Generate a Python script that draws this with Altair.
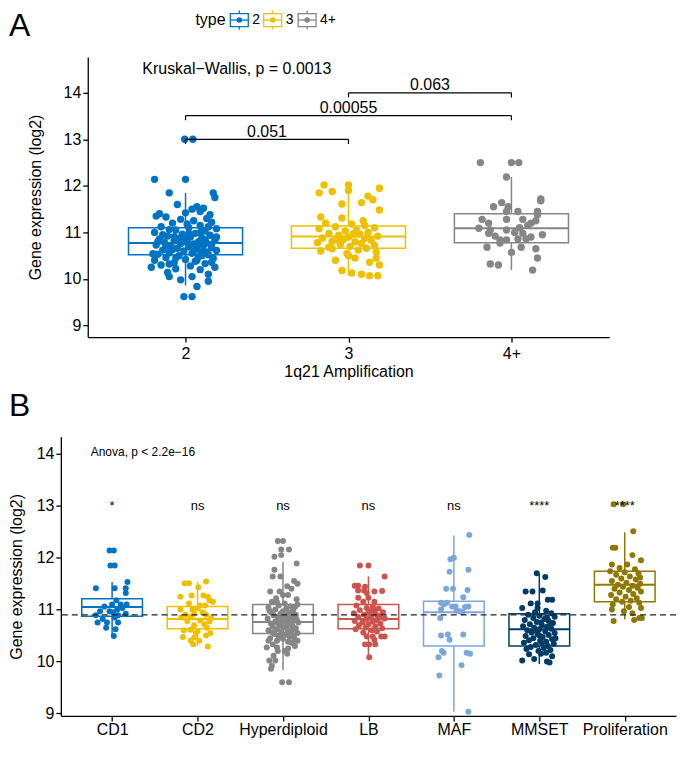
import altair as alt
import pandas as pd

FONT = "Liberation Sans"

# ---------------- Panel A data ----------------
a_groups = ["2", "3", "4+"]
a_colors = ["#0073C2", "#EFC000", "#868686"]
a_q1 = [10.52, 10.66, 10.78]
a_med = [10.77, 10.91, 11.09]
a_q3 = [11.10, 11.14, 11.40]
a_lo = [9.86, 10.07, 10.19]
a_hi = [11.85, 12.03, 12.19]

# (expression, jitter offset in category units)
a_pts_2 = [
    (13.0, -0.005), (13.0, 0.045), (12.14, -0.19), (12.14, 0.0),
    (11.85, -0.10), (11.85, 0.17), (11.75, 0.18), (11.6, -0.05), (11.55, 0.07),
    (11.52, 0.11), (11.5, 0.04), (11.45, 0.09), (11.42, 0.0), (11.35, -0.18),
    (11.33, -0.12), (11.3, 0.13), (11.28, -0.03), (11.25, 0.05), (11.22, 0.16),
    (11.2, -0.08), (11.15, 0.09), (11.12, -0.15), (11.1, 0.02), (11.08, 0.19),
    (11.05, -0.06), (11.03, 0.12), (11.0, -0.19), (10.98, 0.06), (10.96, -0.02),
    (10.94, 0.15), (10.92, -0.11), (10.9, 0.03), (10.88, 0.1), (10.86, -0.16),
    (10.85, 0.0), (10.83, 0.18), (10.82, -0.07), (10.8, 0.08), (10.79, -0.13),
    (10.77, 0.13), (10.76, -0.03), (10.75, 0.05), (10.73, -0.18), (10.72, 0.11),
    (10.7, -0.09), (10.69, 0.02), (10.67, 0.16), (10.66, -0.05), (10.64, 0.07),
    (10.62, -0.14), (10.61, 0.19), (10.6, -0.01), (10.58, 0.1), (10.56, -0.1),
    (10.55, 0.04), (10.53, -0.17), (10.52, 0.14), (10.5, -0.04), (10.48, 0.08),
    (10.46, -0.12), (10.44, 0.17), (10.42, 0.0), (10.4, -0.19), (10.38, 0.06),
    (10.35, -0.07), (10.33, 0.12), (10.3, -0.15), (10.28, 0.03), (10.25, -0.21),
    (10.25, 0.18), (10.22, -0.06), (10.2, 0.09), (10.14, -0.11), (10.1, 0.14),
    (10.05, -0.1), (10.05, 0.04), (9.98, -0.03), (9.95, 0.14), (9.84, 0.07),
    (9.62, -0.01), (9.62, 0.04), (11.4, -0.16), (11.38, 0.15), (11.18, 0.01),
    (11.0, 0.09), (10.95, -0.14), (10.9, 0.19), (10.87, -0.04), (10.84, 0.12),
    (10.8, -0.17), (10.78, 0.01), (10.74, 0.16), (10.7, -0.12), (10.68, 0.07),
    (10.63, -0.08), (10.58, 0.13), (10.54, -0.2), (10.5, 0.1), (10.45, -0.06),
    (10.4, 0.07), (10.36, 0.16), (10.32, -0.1), (11.12, 0.14), (11.06, -0.1),
    (10.97, 0.02), (10.91, -0.07), (10.6, 0.05),
]
a_pts_3 = [
    (12.02, -0.15), (12.02, 0.0), (11.95, 0.19), (11.85, -0.18), (11.88, -0.1),
    (11.9, 0.0), (11.78, 0.12), (11.7, 0.15), (11.64, 0.08), (11.61, -0.04),
    (11.48, 0.19), (11.33, -0.17), (11.31, -0.04), (11.2, -0.14), (11.18, 0.02),
    (11.15, 0.1), (11.12, -0.08), (11.1, 0.16), (11.08, -0.18), (11.05, 0.05),
    (11.03, -0.02), (11.0, 0.12), (10.98, -0.12), (10.96, 0.07), (10.94, -0.06),
    (10.92, 0.18), (10.9, 0.0), (10.88, -0.16), (10.87, 0.1), (10.85, -0.03),
    (10.83, 0.14), (10.81, -0.1), (10.8, 0.04), (10.78, -0.19), (10.76, 0.08),
    (10.74, -0.05), (10.72, 0.16), (10.7, 0.01), (10.68, -0.12), (10.66, 0.11),
    (10.65, -0.1), (10.6, -0.17), (10.62, 0.06), (10.58, 0.17), (10.55, -0.01),
    (10.5, 0.0), (10.45, 0.04), (10.45, 0.17), (10.4, -0.08), (10.36, 0.13),
    (10.3, 0.19), (10.18, -0.04), (10.13, 0.02), (10.1, 0.08), (10.07, 0.13),
    (10.07, 0.18), (11.25, 0.09), (10.97, 0.03), (10.84, -0.07),
]
a_pts_4 = [
    (12.5, -0.19), (12.5, 0.0), (12.5, 0.045), (12.19, -0.03), (11.68, 0.18),
    (11.72, 0.18), (11.64, -0.06), (11.55, -0.11), (11.55, -0.02), (11.45, -0.03),
    (11.45, 0.04), (11.45, 0.16), (11.38, 0.16), (11.28, -0.18), (11.28, -0.03),
    (11.28, 0.07), (11.25, 0.15), (11.2, -0.14), (11.2, 0.12), (11.15, 0.1),
    (11.09, -0.2), (11.05, -0.13), (11.05, -0.03), (11.0, 0.02), (10.98, -0.14),
    (10.98, 0.07), (10.95, 0.19), (10.92, -0.1), (10.86, 0.04), (10.86, 0.09),
    (10.84, -0.07), (10.84, -0.03), (10.77, -0.07), (10.68, -0.15), (10.68, 0.06),
    (10.65, 0.15), (10.57, 0.0), (10.45, 0.16), (10.32, -0.13), (10.3, -0.08),
    (10.19, 0.13), (11.1, 0.05), (10.9, 0.12),
]

a_test_text = ["Kruskal\u2212Wallis, p = 0.0013"]
a_test_x = [0.735]
a_test_y = [14.5]

br_from = [1, 1, 2]
br_to = [2, 3, 3]
br_y = [13.0, 13.51, 14.0]
br_tip = [12.9, 13.41, 13.9]
br_label = ["0.051", "0.00055", "0.063"]

legend_title = "type"

# ---------------- Panel B data ----------------
b_groups = ["CD1", "CD2", "Hyperdiploid", "LB", "MAF", "MMSET", "Proliferation"]
b_colors = ["#0073C2", "#EFC000", "#868686", "#CD534C", "#7AA6DC", "#003C67", "#8F7700"]
b_q1 = [10.87, 10.63, 10.54, 10.63, 10.30, 10.30, 11.15]
b_med = [11.05, 10.82, 10.76, 10.82, 10.95, 10.62, 11.48]
b_q3 = [11.21, 11.06, 11.10, 11.10, 11.16, 10.92, 11.74]
b_lo = [10.49, 10.29, 9.83, 10.08, 9.03, 9.95, 10.81]
b_hi = [11.53, 11.54, 11.92, 11.64, 12.43, 11.70, 12.49]
b_sig = ["*", "ns", "ns", "ns", "ns", "****", "****"]
b_sig_y = 13.0
b_ref = 10.9
b_test_text = ["Anova, p < 2.2e\u221216"]
b_test_x = [0.75]
b_test_y = [14.03]

b_pts_cd1 = [
    (12.14, -0.03), (12.14, 0.02), (11.85, -0.02), (11.85, 0.03), (11.53, 0.18),
    (11.41, -0.19), (11.41, 0.03), (11.41, 0.16), (11.32, 0.16), (11.18, 0.05),
    (11.1, 0.0), (11.1, 0.1), (11.1, 0.17), (11.06, -0.09), (11.0, 0.06),
    (10.97, -0.14), (10.97, -0.03), (10.95, 0.01), (10.92, 0.16), (10.89, -0.19),
    (10.89, 0.07), (10.85, 0.03), (10.75, -0.17), (10.75, -0.06), (10.75, 0.07),
    (10.65, -0.07), (10.62, 0.04), (10.49, 0.02), (11.03, 0.12), (10.82, -0.11),
]
b_pts_cd2 = [
    (11.51, -0.15), (11.51, -0.1), (11.54, 0.1), (11.43, 0.01), (11.25, -0.2),
    (11.27, -0.07), (11.27, 0.07), (11.25, 0.12), (11.18, 0.14), (11.15, 0.18),
    (11.08, 0.03), (11.08, 0.09), (11.0, -0.2), (11.0, -0.06), (11.02, 0.0),
    (10.9, -0.14), (10.92, -0.04), (10.9, 0.1), (10.85, -0.19), (10.86, -0.08),
    (10.84, 0.16), (10.78, -0.12), (10.79, 0.03), (10.77, 0.14), (10.7, -0.04),
    (10.6, -0.16), (10.61, -0.08), (10.59, 0.0), (10.55, -0.02), (10.55, 0.15),
    (10.47, -0.17), (10.46, -0.04), (10.4, -0.08), (10.4, 0.02), (10.33, -0.05),
    (10.29, 0.12), (10.95, 0.06), (10.72, 0.08), (10.65, 0.11), (11.12, -0.1),
    (10.5, 0.1),
]
b_pts_hyp = [
    (12.32, -0.06), (12.32, 0.0), (12.16, -0.02), (12.16, 0.07), (12.02, -0.1),
    (12.05, -0.02), (11.89, 0.16), (11.77, -0.1), (11.64, -0.12), (11.64, -0.03),
    (11.55, 0.13), (11.5, 0.17), (11.35, -0.15), (11.35, -0.04), (11.28, 0.0),
    (11.28, 0.06), (11.2, 0.16), (11.15, -0.13), (11.14, -0.07), (11.12, 0.02),
    (11.1, 0.17), (11.08, -0.05), (11.06, 0.09), (11.04, -0.17), (11.02, 0.04),
    (11.0, -0.09), (10.99, 0.12), (10.97, 0.0), (10.95, -0.14), (10.94, 0.07),
    (10.92, -0.03), (10.9, 0.15), (10.89, -0.11), (10.88, 0.03), (10.86, 0.1),
    (10.85, -0.06), (10.83, -0.18), (10.82, 0.06), (10.8, -0.01), (10.79, 0.13),
    (10.77, -0.09), (10.76, 0.02), (10.75, 0.18), (10.73, -0.14), (10.72, 0.08),
    (10.7, -0.04), (10.69, 0.11), (10.67, -0.12), (10.66, 0.0), (10.64, 0.15),
    (10.62, -0.07), (10.61, 0.05), (10.6, -0.17), (10.58, 0.1), (10.57, -0.02),
    (10.55, 0.17), (10.53, -0.1), (10.52, 0.03), (10.5, 0.13), (10.48, -0.05),
    (10.47, 0.08), (10.45, -0.15), (10.44, 0.0), (10.42, 0.14), (10.4, -0.17),
    (10.4, -0.07), (10.38, 0.06), (10.4, 0.17), (10.27, -0.19), (10.27, -0.07),
    (10.25, 0.06), (10.2, -0.06), (10.2, 0.02), (10.11, -0.11), (10.02, -0.16),
    (10.02, -0.09), (9.92, -0.13), (9.86, -0.14), (9.6, -0.01), (9.6, 0.07),
    (11.22, -0.08), (11.05, 0.14), (10.98, -0.16), (10.93, 0.1), (10.87, -0.02),
    (10.81, 0.16), (10.74, -0.06), (10.68, 0.04), (10.63, 0.12), (10.56, -0.12),
    (10.51, 0.06), (10.46, -0.02), (10.36, 0.1), (10.33, -0.12), (11.4, 0.1),
    (11.45, 0.05), (10.3, 0.14), (10.15, 0.05),
]
b_pts_lb = [
    (11.85, -0.1), (11.85, 0.0), (11.64, 0.19), (11.46, -0.16), (11.46, -0.12),
    (11.44, -0.04), (11.37, -0.12), (11.37, -0.05), (11.35, 0.07), (11.36, 0.16),
    (11.32, -0.02), (11.23, -0.12), (11.23, 0.0), (11.15, -0.06), (11.15, 0.07),
    (11.08, -0.14), (11.06, 0.05), (11.03, -0.02), (11.02, 0.12), (10.99, -0.1),
    (10.97, 0.02), (10.95, 0.17), (10.93, -0.17), (10.92, 0.08), (10.9, -0.05),
    (10.88, 0.13), (10.86, -0.12), (10.85, 0.03), (10.83, 0.19), (10.82, -0.02),
    (10.8, 0.1), (10.78, -0.16), (10.77, 0.05), (10.75, -0.07), (10.73, 0.14),
    (10.72, 0.0), (10.7, -0.11), (10.68, 0.08), (10.66, -0.03), (10.64, 0.16),
    (10.62, -0.15), (10.6, 0.04), (10.58, 0.1), (10.56, -0.06), (10.48, -0.02),
    (10.48, 0.05), (10.48, 0.15), (10.48, 0.19), (10.42, 0.07), (10.33, -0.04),
    (10.33, 0.01), (10.33, 0.08), (10.08, 0.01), (10.94, 0.0), (10.87, 0.11),
    (11.0, 0.07),
]
b_pts_maf = [
    (12.44, 0.18), (12.0, 0.0), (11.97, -0.04), (11.77, 0.17), (11.73, -0.05),
    (11.4, -0.09), (11.4, -0.01), (11.38, 0.16), (11.24, 0.11), (11.13, -0.15),
    (11.13, -0.08), (11.06, -0.02), (11.06, 0.02), (11.05, 0.13), (11.06, 0.17),
    (11.0, -0.15), (10.98, 0.03), (10.97, 0.07), (10.84, -0.16), (10.52, -0.07),
    (10.5, -0.15), (10.52, 0.11), (10.42, -0.05), (10.2, -0.14), (10.17, -0.12),
    (10.17, 0.15), (10.15, 0.19), (10.08, -0.18), (9.93, 0.09), (9.73, -0.17),
    (9.03, 0.17), (11.1, -0.12), (10.95, 0.1),
]
b_pts_mmset = [
    (11.7, -0.03), (11.63, 0.07), (11.35, -0.16), (11.35, -0.08), (11.37, 0.04),
    (11.19, 0.1), (11.19, 0.15), (11.12, -0.1), (11.12, -0.02), (11.03, -0.2),
    (11.03, -0.02), (10.98, 0.08), (10.93, 0.14), (10.9, -0.13), (10.88, 0.0),
    (10.86, 0.18), (10.84, -0.07), (10.82, 0.06), (10.8, -0.17), (10.78, 0.11),
    (10.76, -0.03), (10.74, 0.16), (10.72, -0.11), (10.7, 0.03), (10.68, -0.19),
    (10.67, 0.09), (10.65, -0.06), (10.63, 0.14), (10.62, 0.0), (10.6, -0.14),
    (10.58, 0.07), (10.56, -0.09), (10.55, 0.18), (10.53, -0.02), (10.51, 0.11),
    (10.49, -0.16), (10.47, 0.04), (10.45, -0.07), (10.43, 0.15), (10.41, -0.12),
    (10.4, 0.01), (10.38, 0.08), (10.36, -0.18), (10.34, 0.17), (10.32, -0.04),
    (10.3, 0.1), (10.28, -0.1), (10.26, 0.05), (10.24, -0.15), (10.22, 0.13),
    (10.2, -0.01), (10.17, 0.08), (10.14, -0.12), (10.1, 0.15), (10.05, -0.06),
    (10.02, -0.2), (10.0, 0.09), (9.98, 0.12), (10.95, -0.05), (10.85, 0.09),
    (10.7, 0.13), (10.6, -0.05), (10.5, 0.0), (10.35, 0.03), (10.15, 0.02),
    (10.45, 0.19), (10.75, 0.02),
]
b_pts_prolif = [
    (13.03, -0.13), (13.03, -0.02), (12.51, 0.1), (12.19, -0.14), (12.19, -0.11),
    (12.05, 0.09), (11.95, 0.19), (11.87, -0.15), (11.87, 0.03), (11.8, -0.06),
    (11.78, 0.12), (11.74, -0.17), (11.72, 0.0), (11.7, 0.16), (11.67, -0.1),
    (11.64, 0.06), (11.6, -0.04), (11.58, 0.13), (11.55, -0.15), (11.52, 0.02),
    (11.5, 0.18), (11.48, -0.08), (11.46, 0.09), (11.44, -0.02), (11.42, 0.15),
    (11.4, -0.12), (11.38, 0.05), (11.35, 0.19), (11.33, -0.06), (11.3, 0.1),
    (11.28, -0.16), (11.25, 0.01), (11.22, 0.14), (11.2, -0.1), (11.17, 0.07),
    (11.15, -0.03), (11.13, 0.17), (11.1, -0.14), (11.03, 0.19), (11.0, -0.15),
    (10.97, -0.01), (10.93, 0.09), (10.84, 0.17), (10.84, 0.2), (10.78, -0.13),
    (10.8, 0.11), (11.05, 0.05), (11.62, 0.18),
]

Y_TICKS = [9, 10, 11, 12, 13, 14]


# ---------------- helpers ----------------
def build_points(groups, pts_lists):
    rows = []
    for i, (g, pts) in enumerate(zip(groups, pts_lists)):
        for yv, dx in pts:
            rows.append({"group": g, "x": i + 1 + dx, "y": yv})
    return pd.DataFrame(rows)


def build_boxes(groups, q1, med, q3, lo, hi, half):
    idx = list(range(1, len(groups) + 1))
    return pd.DataFrame({
        "group": groups, "idx": idx,
        "x1": [i - half for i in idx], "x2": [i + half for i in idx],
        "q1": q1, "med": med, "q3": q3, "lo": lo, "hi": hi,
    })


def x_enc(field, groups, xscale, title, label_pad):
    arr = "[" + ",".join("'%s'" % g for g in groups) + "]"
    ax = dict(values=list(range(1, len(groups) + 1)),
              labelExpr=arr + "[datum.value - 1]",
              labelFontSize=16, titleFontSize=16, titleFontWeight="normal",
              labelPadding=label_pad, titlePadding=3, labelFlush=False)
    ax["title"] = title if title else None
    return alt.X(field, type="quantitative", scale=xscale, axis=alt.Axis(**ax))


def y_enc(field, ydom, title_x, offset):
    return alt.Y(field, type="quantitative",
                 scale=alt.Scale(domain=ydom, nice=False, zero=False),
                 axis=alt.Axis(values=Y_TICKS, title="Gene expression (log2)",
                               labelFontSize=16, titleFontSize=16,
                               titleFontWeight="normal", offset=offset,
                               labelPadding=2, titleX=title_x))


def panel(letter, groups, colors, boxes, points, xscale, ydom,
          xtitle, title_x, y_offset, pt_size, label_pad):
    X = lambda f: x_enc(f, groups, xscale, xtitle, label_pad)
    Y = lambda f: y_enc(f, ydom, title_x, y_offset)
    cscale = alt.Scale(domain=groups, range=colors)
    stroke = alt.Stroke("group:N", scale=cscale, legend=None)

    base_box = alt.Chart(boxes)
    wh_up = base_box.mark_rule(strokeWidth=1.5).encode(
        x=X("idx"), y=Y("q3"), y2="hi", stroke=stroke)
    wh_dn = base_box.mark_rule(strokeWidth=1.5).encode(
        x=X("idx"), y=Y("lo"), y2="q1", stroke=stroke)
    box = base_box.mark_rect(filled=False, strokeWidth=1.5).encode(
        x=X("x1"), x2="x2", y=Y("q1"), y2="q3", stroke=stroke)
    med = base_box.mark_rule(strokeWidth=2).encode(
        x=X("x1"), x2="x2", y=Y("med"), stroke=stroke)
    pts = alt.Chart(points).mark_circle(size=pt_size, opacity=1).encode(
        x=X("x"), y=Y("y"),
        color=alt.Color("group:N", scale=cscale, legend=None))
    let = alt.Chart(pd.DataFrame({"t": [letter]})).mark_text(
        align="left", baseline="top", fontSize=32, font=FONT,
        color="black").encode(x=alt.value(-52), y=alt.value(-46),
                              text="t:N")
    return [wh_up, wh_dn, box, med, pts, let], X, Y, cscale, stroke


# ---------------- Panel A ----------------
# plot area starts 27px left of the drawn axes so both panels share one origin
a_xscale = alt.Scale(domain=[0.4, 3.6], range=[27, 550], nice=False, zero=False)
a_boxes = build_boxes(a_groups, a_q1, a_med, a_q3, a_lo, a_hi, 0.35)
a_points = build_points(a_groups, [a_pts_2, a_pts_3, a_pts_4])
a_layers, AX, AY, a_cscale, a_stroke = panel(
    "A", a_groups, a_colors, a_boxes, a_points, a_xscale, [8.75, 14.77],
    "1q21 Amplification", -44, -27, 55, 3)

br = pd.DataFrame({"x1": br_from, "x2": br_to, "y": br_y, "tip": br_tip,
                   "label": br_label})
br["xm"] = (br["x1"] + br["x2"]) / 2
br["ty"] = br["y"] + 0.06
brc = alt.Chart(br)
br_h = brc.mark_rule(color="black", strokeWidth=1.2).encode(
    x=AX("x1"), x2="x2", y=AY("y"))
br_l = brc.mark_rule(color="black", strokeWidth=1.2).encode(
    x=AX("x1"), y=AY("tip"), y2="y")
br_r = brc.mark_rule(color="black", strokeWidth=1.2).encode(
    x=AX("x2"), y=AY("tip"), y2="y")
br_t = brc.mark_text(baseline="alphabetic", fontSize=16, font=FONT,
                     color="black").encode(x=AX("xm"), y=AY("ty"), text="label:N")
kw = alt.Chart(pd.DataFrame({"x": a_test_x, "y": a_test_y, "t": a_test_text})).mark_text(
    align="left", baseline="middle", fontSize=16, font=FONT, color="black").encode(
    x=AX("x"), y=AY("y"), text="t:N")

# legend drawn from simple marks (small boxplot glyphs coloured by the scale)
LEG_Y = -37
legend_layers = [
    alt.Chart(pd.DataFrame({"t": [legend_title]})).mark_text(
        align="left", baseline="middle", fontSize=16, font=FONT,
        color="black").encode(x=alt.value(135), y=alt.value(LEG_Y), text="t:N")
]
for g, gx in zip(a_groups, [179, 212.5, 247]):
    d = alt.Chart(pd.DataFrame({"group": [g]}))
    legend_layers += [
        d.mark_rect(filled=False, strokeWidth=1.3).encode(
            x=alt.value(gx - 9), x2=alt.value(gx + 9),
            y=alt.value(LEG_Y - 6.5), y2=alt.value(LEG_Y + 6.5), stroke=a_stroke),
        d.mark_rule(strokeWidth=1.3).encode(
            x=alt.value(gx - 9), x2=alt.value(gx + 9), y=alt.value(LEG_Y),
            stroke=a_stroke),
        d.mark_rule(strokeWidth=1.3).encode(
            x=alt.value(gx), y=alt.value(LEG_Y - 9.5), y2=alt.value(LEG_Y - 6.5),
            stroke=a_stroke),
        d.mark_rule(strokeWidth=1.3).encode(
            x=alt.value(gx), y=alt.value(LEG_Y + 6.5), y2=alt.value(LEG_Y + 9.5),
            stroke=a_stroke),
        d.mark_circle(size=30, opacity=1).encode(
            x=alt.value(gx), y=alt.value(LEG_Y),
            color=alt.Color("group:N", scale=a_cscale, legend=None)),
        d.mark_text(align="left", baseline="middle", fontSize=14, font=FONT,
                    color="black").encode(
            x=alt.value(gx + 13), y=alt.value(LEG_Y), text="group:N"),
    ]

chartA = alt.layer(*a_layers, br_h, br_l, br_r, br_t, kw,
                   *legend_layers).properties(width=550, height=281)

# ---------------- Panel B ----------------
b_xscale = alt.Scale(domain=[0.4, 7.6], nice=False, zero=False)
b_boxes = build_boxes(b_groups, b_q1, b_med, b_q3, b_lo, b_hi, 0.355)
b_points = build_points(b_groups, [b_pts_cd1, b_pts_cd2, b_pts_hyp, b_pts_lb,
                                   b_pts_maf, b_pts_mmset, b_pts_prolif])
b_layers, BX, BY, _, _ = panel("B", b_groups, b_colors, b_boxes, b_points,
                               b_xscale, [8.95, 14.33], None, -36, 0, 36, 1)
ref = alt.Chart(pd.DataFrame({"ref": [b_ref]})).mark_rule(
    color="#222222", strokeWidth=1.3, strokeDash=[6, 4]).encode(y=BY("ref"))
sig = alt.Chart(pd.DataFrame({"x": list(range(1, 8)), "y": [b_sig_y] * 7,
                              "t": b_sig})).mark_text(
    baseline="middle", fontSize=13, font=FONT, color="black").encode(
    x=BX("x"), y=BY("y"), text="t:N")
anova = alt.Chart(pd.DataFrame({"x": b_test_x, "y": b_test_y, "t": b_test_text})).mark_text(
    align="left", baseline="middle", fontSize=12, font=FONT, color="black").encode(
    x=BX("x"), y=BY("y"), text="t:N")

chartB = alt.layer(*b_layers, ref, sig, anova).properties(width=617, height=280)

chart = alt.ConcatChart(concat=[chartA, chartB], columns=1, spacing=10,
                        bounds="full", padding=0,
                        background="white").resolve_scale(
    color="independent", stroke="independent", x="independent",
    y="independent").configure_axis(
    grid=False, domainColor="black", domainWidth=1.3, tickColor="black",
    tickWidth=1.3, tickSize=5, labelColor="black", titleColor="black",
    labelFont=FONT, titleFont=FONT, titleFontWeight="normal"
).configure_view(stroke=None)

chart.save("out.html", embed_options={"renderer": "svg", "actions": False})
